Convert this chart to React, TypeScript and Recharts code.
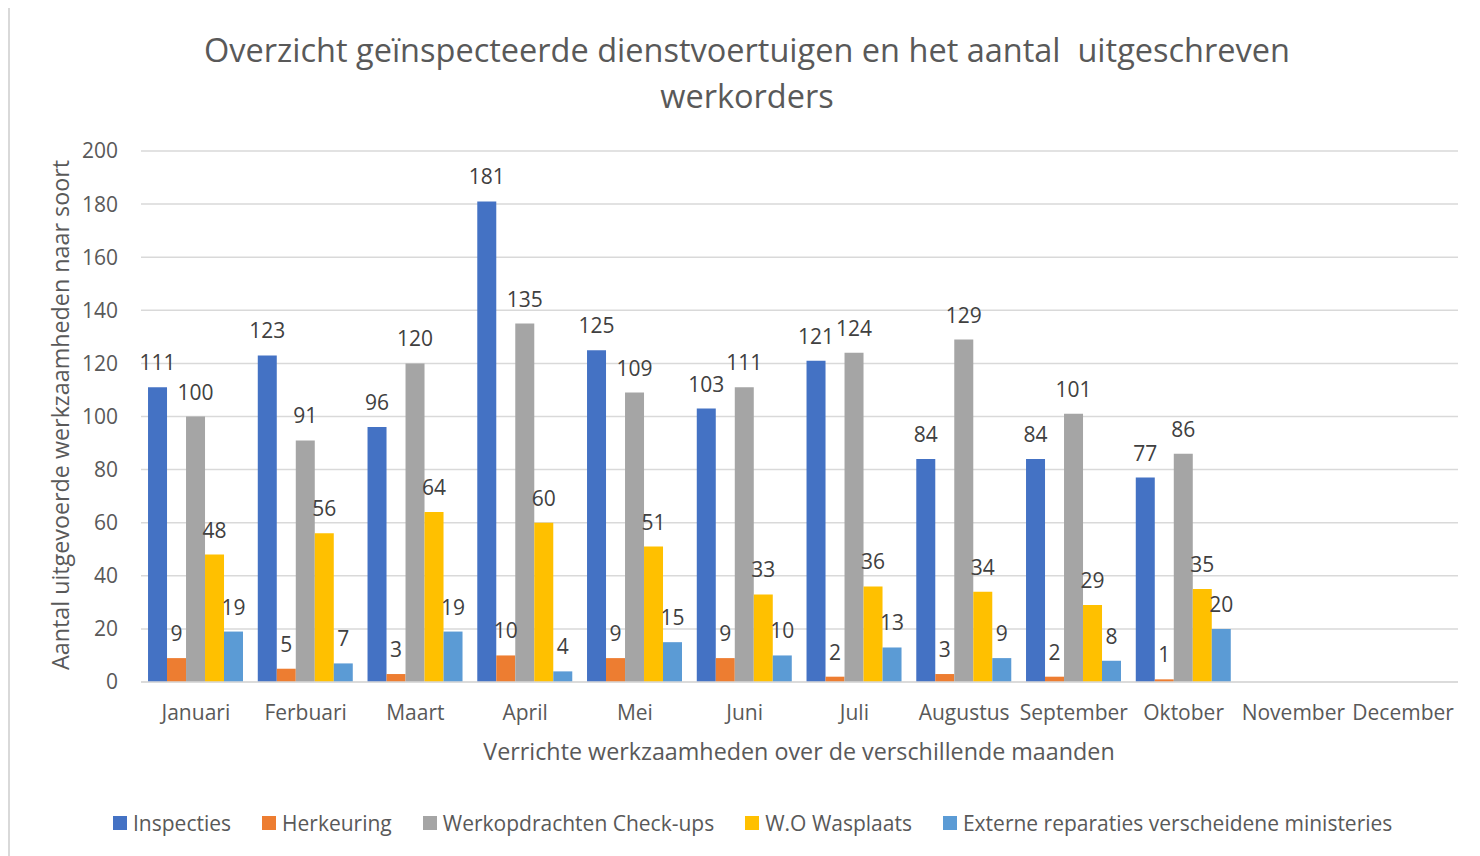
import { BarChart, Bar, XAxis, YAxis, CartesianGrid, LabelList } from 'recharts';

const months = ['Januari', 'Ferbuari', 'Maart', 'April', 'Mei', 'Juni', 'Juli', 'Augustus', 'September', 'Oktober', 'November', 'December'];
const inspecties = [111, 123, 96, 181, 125, 103, 121, 84, 84, 77, null, null];
const herkeuring = [9, 5, 3, 10, 9, 9, 2, 3, 2, 1, null, null];
const checkups = [100, 91, 120, 135, 109, 111, 124, 129, 101, 86, null, null];
const wasplaats = [48, 56, 64, 60, 51, 33, 36, 34, 29, 35, null, null];
const extern = [19, 7, 19, 4, 15, 10, 13, 9, 8, 20, null, null];
const yTicks = [0, 20, 40, 60, 80, 100, 120, 140, 160, 180, 200];

const series = [
  { key: 'inspecties', name: 'Inspecties', color: '#4472C4' },
  { key: 'herkeuring', name: 'Herkeuring', color: '#ED7D31' },
  { key: 'checkups', name: 'Werkopdrachten Check-ups', color: '#A5A5A5' },
  { key: 'wasplaats', name: 'W.O Wasplaats', color: '#FFC000' },
  { key: 'extern', name: 'Externe reparaties verscheidene ministeries', color: '#5B9BD5' },
];

const data = months.map((m, i) => ({
  month: m,
  inspecties: inspecties[i],
  herkeuring: herkeuring[i],
  checkups: checkups[i],
  wasplaats: wasplaats[i],
  extern: extern[i],
}));

const font = '"Open Sans", sans-serif';
const textColor = '#595959';

// legend drawn outside the chart so it does not eat plot space
const ChartLegend = () => (
  <div
    style={{
      position: 'absolute',
      left: 103,
      top: 815,
      transform: 'translateY(-50%)',
      display: 'flex',
      alignItems: 'center',
      fontSize: 21,
      color: textColor,
      whiteSpace: 'nowrap',
    }}
  >
    {series.map((s) => (
      <div key={s.key} style={{ display: 'flex', alignItems: 'center', marginRight: 31 }}>
        <span style={{ width: 14, height: 14, background: s.color, display: 'inline-block', marginRight: 6 }} />
        <span>{s.name}</span>
      </div>
    ))}
  </div>
);

export default function App() {
  return (
    <div
      style={{
        position: 'relative',
        marginTop: -2,
        width: 1470,
        height: 848,
        borderLeft: '2px solid #d9d9d9',
        borderTop: '2px solid #d9d9d9',
        background: '#fff',
        fontFamily: font,
      }}
    >
      <div
        style={{
          position: 'absolute',
          left: 0,
          top: 19,
          width: 1474,
          textAlign: 'center',
          fontSize: 32.5,
          lineHeight: '46px',
          color: textColor,
        }}
      >
        Overzicht geïnspecteerde dienstvoertuigen en het aantal&nbsp; uitgeschreven
        <br />
        werkorders
      </div>
      <div
        style={{
          position: 'absolute',
          left: 50,
          top: 407,
          transform: 'translate(-50%, -50%) rotate(-90deg)',
          whiteSpace: 'nowrap',
          fontSize: 23.3,
          color: textColor,
        }}
      >
        Aantal uitgevoerde werkzaamheden naar soort
      </div>
      <div
        style={{
          position: 'absolute',
          left: 789,
          top: 743,
          transform: 'translate(-50%, -50%)',
          whiteSpace: 'nowrap',
          fontSize: 23.3,
          color: textColor,
        }}
      >
        Verrichte werkzaamheden over de verschillende maanden
      </div>
      <BarChart
        width={1470}
        height={848}
        data={data}
        margin={{ top: 143, right: 22, bottom: 114, left: 71 }}
        barCategoryGap="6.4%"
        barGap={0}
      >
        <CartesianGrid vertical={false} stroke="#d9d9d9" strokeWidth={1.5} />
        <XAxis
          dataKey="month"
          axisLine={{ stroke: '#d9d9d9', strokeWidth: 1.5 }}
          tickLine={false}
          tickMargin={17}
          height={60}
          interval={0}
          tick={{ fontSize: 21, fill: textColor, fontFamily: font }}
        />
        <YAxis
          domain={[0, 200]}
          ticks={yTicks}
          width={60}
          axisLine={false}
          tickLine={false}
          tickMargin={17}
          tick={{ fontSize: 21, fill: textColor, fontFamily: font }}
        />
        {series.map((s) => (
          <Bar key={s.key} dataKey={s.key} name={s.name} fill={s.color} isAnimationActive={false}>
            <LabelList
              dataKey={s.key}
              position="top"
              offset={17}
              style={{ fontSize: 21, fill: '#404040', fontFamily: font }}
              formatter={(v: any) => (v == null ? '' : v)}
            />
          </Bar>
        ))}
      </BarChart>
      <ChartLegend />
    </div>
  );
}
